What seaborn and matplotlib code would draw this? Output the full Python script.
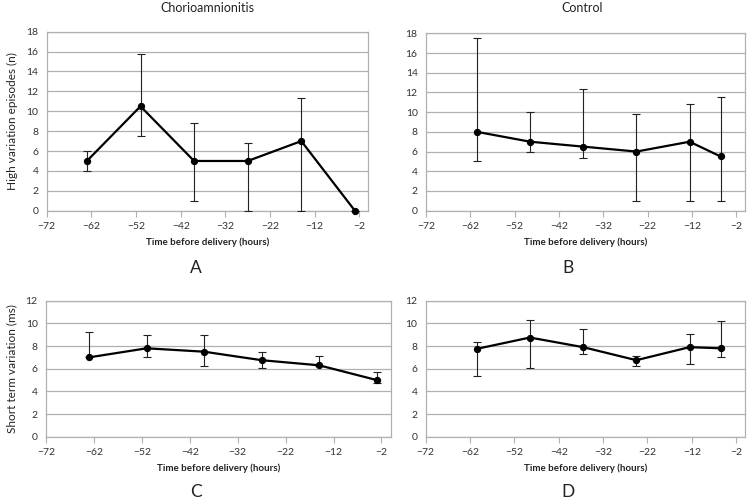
import matplotlib
matplotlib.use("Agg")
import matplotlib.pyplot as plt
import numpy as np
import pandas as pd
import seaborn as sns

# time points (hours before delivery)
time_chorio = [-63, -51, -39, -27, -15, -3]
time_control = [-60.5, -48.5, -36.5, -24.5, -12.5, -5.5]

# high variation episodes (n)
hve_chorio = [5, 10.5, 5, 5, 7, 0]
hve_chorio_low = [4, 7.5, 1, 0, 0, 0]
hve_chorio_high = [6, 15.8, 8.8, 6.8, 11.3, 0]

hve_control = [8, 7, 6.5, 6, 7, 5.5]
hve_control_low = [5, 6, 5.3, 1, 1, 1]
hve_control_high = [17.5, 10, 12.3, 9.8, 10.8, 11.5]

# short term variation (ms)
stv_chorio = [7, 7.8, 7.5, 6.75, 6.3, 5]
stv_chorio_low = [7, 7, 6.25, 6.1, 6.2, 4.7]
stv_chorio_high = [9.25, 9, 9, 7.5, 7.15, 5.75]

stv_control = [7.75, 8.75, 7.9, 6.75, 7.9, 7.8]
stv_control_low = [5.4, 6.1, 7.3, 6.2, 6.4, 7.0]
stv_control_high = [8.4, 10.3, 9.5, 7.1, 9.1, 10.25]

x_ticks = [-72, -62, -52, -42, -32, -22, -12, -2]

sns.set_style("white")
plt.rcParams["font.family"] = ["Lato", "DejaVu Sans"]

W, H = 750, 501
fig = plt.figure(figsize=(7.5, 5.01), dpi=100)


def make_ax(left, right, top, bottom):
    return fig.add_axes([left / W, 1 - bottom / H, (right - left) / W, (bottom - top) / H])


def draw_panel(ax, x, y, lo, hi, ymax, ystep):
    df = pd.DataFrame({"t": x, "v": y})
    yerr = [np.array(y) - np.array(lo), np.array(hi) - np.array(y)]
    ax.errorbar(x, y, yerr=yerr, fmt="none", ecolor="#222222", elinewidth=0.8,
                capsize=3, capthick=0.8, zorder=3)
    sns.lineplot(data=df, x="t", y="v", ax=ax, color="black", linewidth=1.6,
                 marker="o", markersize=4.5, markeredgecolor="black", zorder=4,
                 clip_on=False)
    ax.set_xlim(-72, 0)
    ax.set_ylim(0, ymax)
    ax.set_xticks(x_ticks)
    ax.set_yticks(np.arange(0, ymax + 0.1, ystep))
    ax.yaxis.grid(True, color="#b0b0b0", linewidth=0.9)
    ax.set_axisbelow(True)
    for s in ax.spines.values():
        s.set_color("#b0b0b0")
        s.set_linewidth(0.9)
    ax.tick_params(axis="x", direction="out", length=4, color="#b0b0b0",
                   labelsize=7.5, labelcolor="#333333", bottom=True, pad=4)
    ax.tick_params(axis="y", length=0, labelsize=7.5, labelcolor="#333333", pad=6)
    ax.set_xlabel("Time before delivery (hours)", fontsize=7, fontweight="bold",
                  color="#222222", labelpad=5)
    ax.set_ylabel("")


axA = make_ax(46.7, 368.3, 31.7, 210.7)
draw_panel(axA, time_chorio, hve_chorio, hve_chorio_low, hve_chorio_high, 18, 2)
axA.set_ylabel("High variation episodes (n)", fontsize=8.5, color="#222222", labelpad=6)

axB = make_ax(426, 745, 33.3, 210.7)
draw_panel(axB, time_control, hve_control, hve_control_low, hve_control_high, 18, 2)

axC = make_ax(46, 391, 300.7, 436.7)
draw_panel(axC, time_chorio, stv_chorio, stv_chorio_low, stv_chorio_high, 12, 2)
axC.set_ylabel("Short term variation (ms)", fontsize=8.5, color="#222222", labelpad=6)

axD = make_ax(425.7, 745, 300.7, 436.7)
draw_panel(axD, time_control, stv_control, stv_control_low, stv_control_high, 12, 2)

fig.text(207 / W, 1 - 8 / H, "Chorioamnionitis", ha="center", va="center", fontsize=9, color="#222222")
fig.text(582 / W, 1 - 8 / H, "Control", ha="center", va="center", fontsize=9, color="#222222")
fig.text(196 / W, 1 - 268 / H, "A", ha="center", va="center", fontsize=12.5, color="#222222")
fig.text(568 / W, 1 - 268 / H, "B", ha="center", va="center", fontsize=12.5, color="#222222")
fig.text(196 / W, 1 - 492 / H, "C", ha="center", va="center", fontsize=12.5, color="#222222")
fig.text(568 / W, 1 - 492 / H, "D", ha="center", va="center", fontsize=12.5, color="#222222")

fig.savefig("out.png", dpi=100)
